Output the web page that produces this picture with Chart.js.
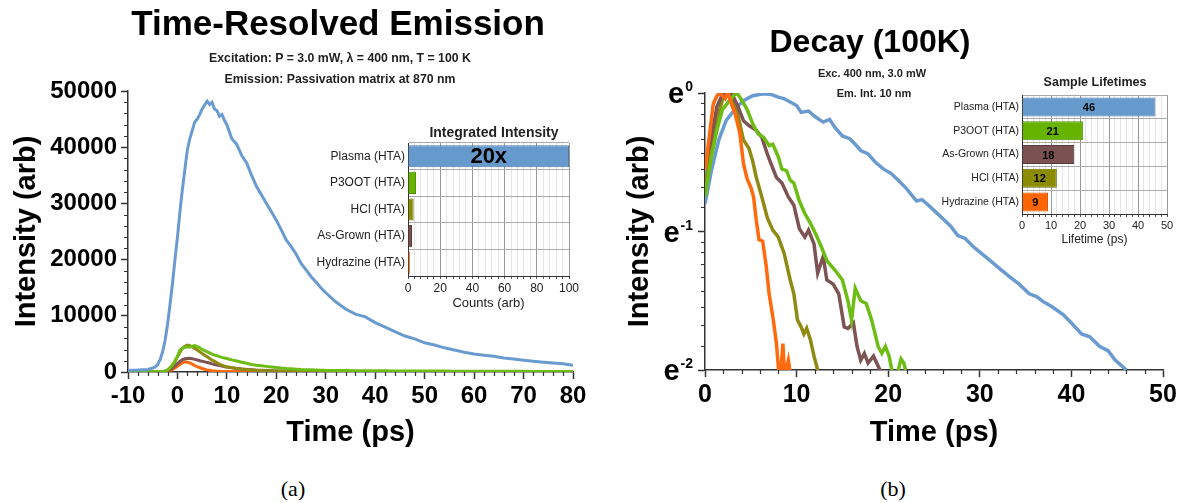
<!DOCTYPE html>
<html>
<head>
<meta charset="utf-8">
<script src="https://cdn.jsdelivr.net/npm/chart.js@4.4.1/dist/chart.umd.min.js"></script>
<style>
  body { margin: 0; background: #fff; font-family: 'Liberation Sans', Arial, sans-serif; }
  #page { position: relative; width: 1185px; height: 503px; overflow: hidden; background: #fff; }
  canvas { position: absolute; }
  .txt { position: absolute; transform: translate(-50%, -50%); white-space: nowrap; font-weight: bold; color: #000; z-index: 5; }
  .cap { position: absolute; transform: translate(-50%, -50%); font-family: 'Liberation Serif', 'DejaVu Serif', serif; font-size: 22px; color: #000; }
</style>
</head>
<body>
<div id="page">
  <canvas id="mainA" width="600" height="470" style="left:0;top:0;z-index:1"></canvas>
  <canvas id="insetA" width="290" height="210" style="left:300px;top:110px;z-index:2"></canvas>
  <canvas id="mainB" width="585" height="470" style="left:600px;top:0;z-index:1"></canvas>
  <canvas id="insetB" width="285" height="185" style="left:900px;top:70px;z-index:2"></canvas>

  <div class="txt" style="left:338px;top:23px;font-size:35px">Time-Resolved Emission</div>
  <div class="txt" style="left:340px;top:58px;font-size:12.3px;color:#222">Excitation: P = 3.0 mW, λ = 400 nm, T = 100 K</div>
  <div class="txt" style="left:340px;top:79px;font-size:12.3px;color:#222">Emission: Passivation matrix at 870 nm</div>
  <div class="txt" style="left:494px;top:132px;font-size:14px;color:#222">Integrated Intensity</div>

  <div class="txt" style="left:870px;top:41px;font-size:32px">Decay (100K)</div>
  <div class="txt" style="left:872px;top:73px;font-size:11px;color:#222">Exc. 400 nm, 3.0 mW</div>
  <div class="txt" style="left:874px;top:93px;font-size:11px;color:#222">Em. Int. 10 nm</div>
  <div class="txt" style="left:1095px;top:82px;font-size:12.5px;color:#222">Sample Lifetimes</div>

  <div class="cap" style="left:293px;top:489px">(a)</div>
  <div class="cap" style="left:893px;top:489px">(b)</div>
</div>
<script>
const FONT = "'Liberation Sans', Arial, sans-serif";

// (a) emission transients, time in ps, intensity in arb
const emissionTime = [-10, -8, -6, -5,
  -4.5, -4, -3.5, -3, -2.5, -2, -1.5, -1, -0.5, 0, 0.5, 1, 1.5, 2, 2.5, 3, 3.5, 4, 4.5, 5, 5.5, 6, 6.5, 7, 7.5, 8, 8.5, 9, 9.5, 10,
  11, 12, 13, 14, 15, 16, 17, 18, 19, 20, 21, 22, 23, 24, 25, 26, 27, 28, 29, 30,
  32, 34, 36, 38, 40, 42, 44, 46, 48, 50, 52, 54, 56, 58, 60, 62, 64, 66, 68, 70, 72, 74, 76, 78, 80];
const emissionPlasma = [300, 350, 450, 700,
  900, 1300, 2200, 3600, 5600, 8500, 12000, 15800, 20000, 24000, 28500, 32500, 36000, 39500, 41500, 43000, 44500, 45000, 45800, 46800, 47500, 48200, 47600, 48000, 46800, 46500, 45500, 45800, 44800, 44000,
  41500, 40500, 38500, 37200, 35000, 33000, 31500, 30000, 28500, 27000, 25300, 23500, 22300, 21000, 19300, 18200, 17000, 16000, 15000, 14100,
  12500, 11200, 10300, 9800, 8800, 8000, 7200, 6400, 5900, 5200, 4800, 4300, 3900, 3500, 3200, 3000, 2800, 2500, 2300, 2100, 1900, 1750, 1600, 1450, 1200];
const emissionP3OOT = [50, 50, 50, 50,
  50, 60, 80, 100, 200, 400, 800, 1300, 2000, 2800, 3900, 4200, 4400, 4500, 4400, 4600, 4700, 4500, 4300, 4000, 3800, 3600, 3400, 3200, 3000, 2900, 2750, 2600, 2500, 2400,
  2150, 1950, 1750, 1550, 1350, 1200, 1100, 1000, 900, 800, 700, 620, 560, 500, 450, 420, 380, 350, 330, 300,
  280, 260, 240, 230, 220, 210, 200, 190, 180, 170, 160, 160, 150, 150, 140, 140, 130, 130, 120, 120, 110, 110, 100, 100, 100];
const emissionHCl = [40, 40, 40, 40,
  40, 50, 60, 80, 150, 300, 650, 1100, 1800, 2700, 3500, 4200, 4600, 4800, 4700, 4500, 4200, 3900, 3600, 3300, 3000, 2700, 2400, 2100, 1900, 1650, 1400, 1200, 1050, 900,
  780, 640, 520, 430, 360, 300, 260, 220, 190, 170, 150, 140, 130, 120, 110, 100, 95, 90, 85, 80,
  75, 70, 65, 60, 60, 55, 55, 50, 50, 50, 45, 45, 45, 40, 40, 40, 40, 35, 35, 35, 35, 30, 30, 30, 30];
const emissionAsGrown = [30, 30, 30, 30,
  30, 40, 50, 60, 100, 200, 400, 700, 1100, 1500, 1900, 2200, 2350, 2400, 2450, 2350, 2250, 2150, 2000, 1900, 1800, 1700, 1600, 1450, 1350, 1250, 1150, 1050, 950, 870,
  750, 640, 540, 460, 390, 330, 290, 250, 220, 190, 170, 155, 140, 130, 120, 110, 100, 95, 90, 85,
  80, 75, 70, 65, 60, 58, 55, 52, 50, 48, 46, 44, 42, 40, 38, 37, 36, 35, 34, 33, 32, 31, 30, 30, 30];
const emissionHydrazine = [20, 20, 20, 20,
  20, 25, 30, 40, 60, 120, 250, 450, 700, 1000, 1350, 1650, 1800, 1750, 1600, 1400, 1150, 950, 780, 620, 480, 380, 300, 230, 180, 150, 130, 110, 100, 90,
  80, 70, 65, 60, 55, 50, 48, 46, 44, 42, 40, 38, 36, 35, 34, 33, 32, 31, 30, 30,
  28, 28, 27, 27, 26, 26, 25, 25, 24, 24, 23, 23, 22, 22, 22, 21, 21, 21, 20, 20, 20, 20, 20, 20, 20];

const integratedLabels = ['Plasma (HTA)', 'P3OOT (HTA)', 'HCl (HTA)', 'As-Grown (HTA)', 'Hydrazine (HTA)'];
const integratedCounts = [100, 5, 3.5, 2.5, 1.2];
const integratedNotes = ['20x', '', '', '', ''];

// (b) normalised decays, stored as ln(I / Imax)
const decayTimePlasma = [0, 0.7, 1.5, 2.3, 3.3, 4.2, 5.2, 6.4, 7.2, 8.0, 8.6, 9.3, 10.0, 10.5, 11.3, 12.0, 12.9, 13.6, 14.2, 15.0,
  15.8, 16.4, 17.0, 17.8, 18.6, 19.5, 20.3, 21.1, 22.0, 23.1, 23.7, 24.4, 25.2, 26.0, 26.8, 27.6, 28.4, 29.3, 30.2, 31.3,
  32.2, 33.3, 34.3, 35.4, 36.2, 37.0, 37.8, 39.1, 40.0, 41.1, 42.0, 43.1, 44.0, 44.8, 45.5, 46.0];
const decayLnPlasma = [-0.80, -0.56, -0.34, -0.20, -0.115, -0.055, -0.02, -0.005, -0.01, -0.03, -0.04, -0.065, -0.09, -0.14, -0.13, -0.17, -0.21, -0.19, -0.25, -0.31,
  -0.33, -0.37, -0.415, -0.44, -0.50, -0.55, -0.58, -0.63, -0.69, -0.78, -0.77, -0.81, -0.86, -0.91, -0.96, -1.03, -1.05, -1.11, -1.16, -1.22,
  -1.27, -1.33, -1.38, -1.45, -1.47, -1.51, -1.54, -1.60, -1.66, -1.74, -1.76, -1.83, -1.86, -1.93, -1.97, -2.0];
const decayTimeP3OOT = [0, 0.7, 1.3, 1.9, 2.5, 3.1, 3.5, 4.0, 4.6, 5.2, 5.8, 6.4, 7.0, 7.4, 8.0, 8.4, 8.9, 9.3, 9.7, 10.3,
  10.9, 11.5, 12.1, 12.7, 13.3, 14.2, 15.0, 15.6, 16.0, 16.4, 17.0, 17.6, 18.2, 18.9, 19.3, 19.7, 20.1, 20.4, 20.7, 21.1, 21.4, 21.7, 21.9];
const decayLnP3OOT = [-0.75, -0.46, -0.27, -0.12, -0.07, -0.02, 0, -0.05, -0.12, -0.22, -0.295, -0.32, -0.38, -0.37, -0.46, -0.55, -0.56, -0.63, -0.65, -0.78,
  -0.87, -0.94, -1.02, -1.11, -1.21, -1.28, -1.35, -1.50, -1.64, -1.41, -1.50, -1.52, -1.64, -1.83, -1.88, -1.83, -1.90, -2.0, -2.2, -2.0, -1.92, -1.95, -2.0];
const decayTimeAsGrown = [0, 0.7, 1.3, 1.9, 2.5, 2.9, 3.55, 4.2, 4.8, 5.6, 6.2, 6.8, 7.2, 7.8, 8.4, 9.1, 9.7, 10.3, 10.9, 11.3,
  11.9, 12.3, 12.9, 13.3, 14.0, 14.6, 15.2, 15.6, 16.2, 16.6, 17.0, 17.4, 17.8, 18.4, 19.1, 19.3];
const decayLnAsGrown = [-0.53, -0.32, -0.10, -0.01, -0.02, 0, -0.09, -0.20, -0.235, -0.27, -0.32, -0.44, -0.51, -0.61, -0.65, -0.75, -0.81, -0.98, -1.04, -0.99,
  -1.09, -1.30, -1.18, -1.35, -1.38, -1.45, -1.69, -1.70, -1.66, -1.83, -1.93, -1.88, -1.95, -1.90, -2.0, -2.1];
const decayTimeHCl = [0, 0.7, 1.3, 1.9, 2.5, 3.1, 3.55, 4.2, 4.8, 5.2, 5.6, 6.2, 6.8, 7.4, 8.0, 8.65, 9.3, 9.7, 10.1, 10.5,
  10.8, 11.1, 11.5, 11.9, 12.3, 12.6];
const decayLnHCl = [-0.68, -0.39, -0.19, -0.05, 0, -0.05, -0.15, -0.34, -0.40, -0.49, -0.61, -0.75, -0.90, -0.99, -1.04, -1.16, -1.35, -1.45, -1.64, -1.69,
  -1.74, -1.70, -1.78, -1.90, -2.0, -2.1];
const decayTimeHydrazine = [0, 0.2, 0.55, 0.9, 1.3, 1.6, 2.2, 2.5, 2.9, 3.3, 3.8, 4.2, 4.6, 5.0, 5.3, 5.6, 5.9, 6.3, 6.7, 7.0,
  7.46, 7.8, 8.0, 8.2, 8.5, 8.7, 9.1, 9.5];
const decayLnHydrazine = [-0.55, -0.46, -0.27, -0.08, -0.02, 0, -0.04, 0, -0.08, -0.15, -0.29, -0.51, -0.62, -0.68, -0.75, -0.92, -1.06, -1.07, -1.26, -1.45,
  -1.64, -1.81, -1.97, -2.1, -1.81, -2.05, -1.93, -2.1];
const decayTicks = [0, -1, -2];

const lifetimeLabels = ['Plasma (HTA)', 'P3OOT (HTA)', 'As-Grown (HTA)', 'HCl (HTA)', 'Hydrazine (HTA)'];
const lifetimeValues = [46, 21, 18, 12, 9];

const colors = {
  plasma: '#6a9bd0', p3oot: '#6dbd14', hcl: '#8e8a12', asGrown: '#7e5353', hydrazine: '#ff6a0e'
};
const barFill = { plasma: '#6699cc', p3oot: '#66b300', hcl: '#8c8c00', asGrown: '#7b5050', hydrazine: '#ff6600' };
const barEdge = { plasma: '#4f79a6', p3oot: '#4e8a00', hcl: '#666600', asGrown: '#5a3a3a', hydrazine: '#c85000' };

Chart.defaults.font.family = FONT;

const pts = (ts, vs) => ts.map((t, i) => ({ x: t, y: vs[i] }));
const line = (label, data, color, width) => ({
  label, data, borderColor: color, borderWidth: width, pointRadius: 0, tension: 0, fill: false
});

// short outward ticks between the labelled ones
function makeMinorTicks(xVals, yVals, len) {
  return {
    id: 'minorTicks',
    afterDraw(chart) {
      const { ctx, chartArea, scales } = chart;
      ctx.save();
      ctx.strokeStyle = '#333';
      ctx.lineWidth = 1.2;
      ctx.beginPath();
      xVals.forEach(v => {
        const px = Math.round(scales.x.getPixelForValue(v)) + 0.5;
        ctx.moveTo(px, chartArea.bottom);
        ctx.lineTo(px, chartArea.bottom + len);
      });
      yVals.forEach(v => {
        const py = Math.round(scales.y.getPixelForValue(v)) + 0.5;
        ctx.moveTo(chartArea.left, py);
        ctx.lineTo(chartArea.left - len, py);
      });
      ctx.stroke();
      ctx.restore();
    }
  };
}

function makeBarNotes(texts, font) {
  return {
    id: 'barNotes',
    afterDatasetsDraw(chart) {
      const ctx = chart.ctx;
      ctx.save();
      ctx.font = font;
      ctx.fillStyle = '#000';
      ctx.textAlign = 'center';
      ctx.textBaseline = 'middle';
      chart.getDatasetMeta(0).data.forEach((bar, i) => {
        if (texts[i]) ctx.fillText(texts[i], (bar.x + bar.base) / 2, bar.y + 1);
      });
      ctx.restore();
    }
  };
}

// e^n labels with real superscripts
const expLabels = {
  id: 'expLabels',
  afterDraw(chart) {
    const { ctx, chartArea, scales } = chart;
    ctx.save();
    ctx.fillStyle = '#000';
    ctx.textAlign = 'left';
    ctx.textBaseline = 'alphabetic';
    decayTicks.forEach(p => {
      const y = scales.y.getPixelForValue(p);
      const right = chartArea.left - 12;
      const sup = String(p);
      ctx.font = 'bold 14px ' + FONT;
      const sw = ctx.measureText(sup).width;
      ctx.fillText(sup, right - sw, y - 2);
      ctx.font = 'bold 29px ' + FONT;
      const ew = ctx.measureText('e').width;
      ctx.fillText('e', right - sw - ew - 1, y + 10);
    });
    ctx.restore();
  }
};

const axisBorder = { color: '#333', width: 1.5 };
const majorGrid = { display: true, drawOnChartArea: false, tickLength: 7, tickColor: '#333', tickWidth: 1.5 };
const bigTick = { size: 24, weight: 'bold' };
const axisTitleFont = { size: 29, weight: 'bold' };

// ---------- (a) main ----------
const minorXA = [], minorYA = [];
for (let t = -10; t <= 80; t += 2) if (t % 10 !== 0) minorXA.push(t);
for (let v = 0; v <= 50000; v += 2000) if (v % 10000 !== 0) minorYA.push(v);

new Chart(document.getElementById('mainA'), {
  type: 'line',
  data: {
    datasets: [
      line('Plasma (HTA)', pts(emissionTime, emissionPlasma), colors.plasma, 3),
      line('P3OOT (HTA)', pts(emissionTime, emissionP3OOT), colors.p3oot, 3),
      line('HCl (HTA)', pts(emissionTime, emissionHCl), colors.hcl, 3),
      line('As-Grown (HTA)', pts(emissionTime, emissionAsGrown), colors.asGrown, 3),
      line('Hydrazine (HTA)', pts(emissionTime, emissionHydrazine), colors.hydrazine, 3)
    ]
  },
  options: {
    responsive: false, animation: false, devicePixelRatio: 1,
    layout: { padding: { left: 0, top: 91, right: 27, bottom: 0 } },
    plugins: { legend: { display: false }, tooltip: { enabled: false } },
    scales: {
      x: {
        type: 'linear', min: -10, max: 80,
        ticks: { stepSize: 10, font: bigTick, color: '#000', maxRotation: 0, padding: 3, callback: v => String(v) },
        grid: majorGrid, border: axisBorder,
        title: { display: true, text: 'Time (ps)', font: axisTitleFont, color: '#000', padding: { top: 0, bottom: 20 } },
        afterFit: s => { s.height = 98; }
      },
      y: {
        type: 'linear', min: 0, max: 50000,
        ticks: { stepSize: 10000, font: bigTick, color: '#000', padding: 4, callback: v => String(v) },
        grid: majorGrid, border: axisBorder,
        title: { display: true, text: 'Intensity (arb)', font: axisTitleFont, color: '#000', padding: { top: 10, bottom: 0 } },
        afterFit: s => { s.width = 128; }
      }
    }
  },
  plugins: [makeMinorTicks(minorXA, minorYA, 4)]
});

// ---------- (a) inset ----------
new Chart(document.getElementById('insetA'), {
  type: 'bar',
  data: {
    labels: integratedLabels,
    datasets: [{
      data: integratedCounts,
      backgroundColor: [barFill.plasma, barFill.p3oot, barFill.hcl, barFill.asGrown, barFill.hydrazine],
      borderColor: [barEdge.plasma, barEdge.p3oot, barEdge.hcl, barEdge.asGrown, barEdge.hydrazine],
      borderWidth: 1, barPercentage: 0.83, categoryPercentage: 1
    }]
  },
  options: {
    indexAxis: 'y', responsive: false, animation: false, devicePixelRatio: 1,
    layout: { padding: { left: 0, top: 33, right: 21, bottom: 0 } },
    plugins: { legend: { display: false }, tooltip: { enabled: false } },
    scales: {
      x: {
        type: 'linear', min: 0, max: 100,
        ticks: { stepSize: 4, autoSkip: false, maxRotation: 0, color: '#222', font: { size: 12 }, padding: 2,
          callback: v => (v % 20 === 0 ? String(v) : '') },
        grid: { color: c => (c.tick && c.tick.value % 20 === 0 ? '#999' : '#e4e4e4'), lineWidth: 1,
          tickLength: 3, tickColor: '#555' },
        border: { color: '#333', width: 1 },
        title: { display: true, text: 'Counts (arb)', color: '#222', font: { size: 13 }, padding: { top: 0, bottom: 9 } },
        afterFit: s => { s.height = 44; }
      },
      y: {
        ticks: { color: '#222', font: { size: 12 }, padding: 3 },
        grid: { offset: true, color: '#aaa', drawTicks: false },
        border: { color: '#333', width: 1 },
        afterFit: s => { s.width = 108; }
      }
    }
  },
  plugins: [makeBarNotes(integratedNotes, 'bold 22px ' + FONT)]
});

// ---------- (b) main ----------
const e1 = Math.exp(-1), e2 = Math.exp(-2);
const minorXB = [], minorYB = [];
for (let t = 0; t <= 50; t += 2) if (t % 10 !== 0) minorXB.push(t);
for (let k = 1; k <= 8; k++) {
  minorYB.push(Math.log(e1 + k * (1 - e1) / 9));
  minorYB.push(Math.log(e2 + k * (e1 - e2) / 9));
}

new Chart(document.getElementById('mainB'), {
  type: 'line',
  data: {
    datasets: [
      line('Hydrazine (HTA)', pts(decayTimeHydrazine, decayLnHydrazine), colors.hydrazine, 3.5),
      line('P3OOT (HTA)', pts(decayTimeP3OOT, decayLnP3OOT), colors.p3oot, 3.5),
      line('As-Grown (HTA)', pts(decayTimeAsGrown, decayLnAsGrown), colors.asGrown, 3.5),
      line('HCl (HTA)', pts(decayTimeHCl, decayLnHCl), colors.hcl, 3.5),
      line('Plasma (HTA)', pts(decayTimePlasma, decayLnPlasma), colors.plasma, 3.5)
    ]
  },
  options: {
    responsive: false, animation: false, devicePixelRatio: 1,
    layout: { padding: { left: 0, top: 93, right: 22, bottom: 0 } },
    plugins: { legend: { display: false }, tooltip: { enabled: false } },
    scales: {
      x: {
        type: 'linear', min: 0, max: 50,
        ticks: { stepSize: 10, font: { size: 25, weight: 'bold' }, color: '#000', maxRotation: 0, padding: 3 },
        grid: majorGrid, border: axisBorder,
        title: { display: true, text: 'Time (ps)', font: axisTitleFont, color: '#000', padding: { top: 0, bottom: 20 } },
        afterFit: s => { s.height = 100; }
      },
      y: {
        type: 'linear', min: -2, max: 0,
        ticks: { stepSize: 1, callback: () => '' },
        grid: majorGrid, border: axisBorder,
        title: { display: true, text: 'Intensity (arb)', font: axisTitleFont, color: '#000', padding: { top: 23, bottom: 0 } },
        afterFit: s => { s.width = 105; }
      }
    }
  },
  plugins: [makeMinorTicks(minorXB, minorYB, 4), expLabels]
});

// ---------- (b) inset ----------
new Chart(document.getElementById('insetB'), {
  type: 'bar',
  data: {
    labels: lifetimeLabels,
    datasets: [{
      data: lifetimeValues,
      backgroundColor: [barFill.plasma, barFill.p3oot, barFill.asGrown, barFill.hcl, barFill.hydrazine],
      borderColor: [barEdge.plasma, barEdge.p3oot, barEdge.asGrown, barEdge.hcl, barEdge.hydrazine],
      borderWidth: 1, barPercentage: 0.8, categoryPercentage: 1
    }]
  },
  options: {
    indexAxis: 'y', responsive: false, animation: false, devicePixelRatio: 1,
    layout: { padding: { left: 0, top: 25, right: 18, bottom: 0 } },
    plugins: { legend: { display: false }, tooltip: { enabled: false } },
    scales: {
      x: {
        type: 'linear', min: 0, max: 50,
        ticks: { stepSize: 2, autoSkip: false, maxRotation: 0, color: '#222', font: { size: 11 }, padding: 2,
          callback: v => (v % 10 === 0 ? String(v) : '') },
        grid: { color: c => (c.tick && c.tick.value % 10 === 0 ? '#999' : '#e4e4e4'), lineWidth: 1,
          tickLength: 3, tickColor: '#555' },
        border: { color: '#333', width: 1 },
        title: { display: true, text: 'Lifetime (ps)', color: '#222', font: { size: 12 }, padding: { top: 0, bottom: 8 } },
        afterFit: s => { s.height = 41; }
      },
      y: {
        ticks: { color: '#222', font: { size: 10.5 }, padding: 3 },
        grid: { offset: true, color: '#aaa', drawTicks: false },
        border: { color: '#333', width: 1 },
        afterFit: s => { s.width = 122; }
      }
    }
  },
  plugins: [makeBarNotes(lifetimeValues.map(String), 'bold 11px ' + FONT)]
});
</script>
</body>
</html>
